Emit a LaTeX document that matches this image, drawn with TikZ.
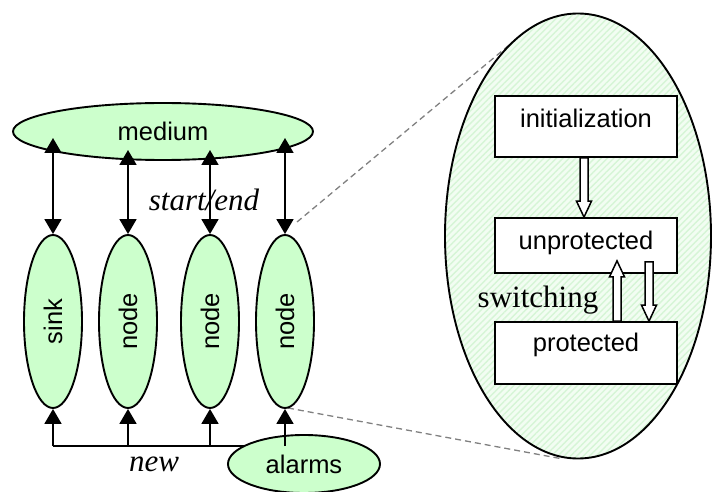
\documentclass[tikz,border=0pt]{standalone}
\usepackage{fontspec}
\setmainfont{Liberation Serif}
\setsansfont{Liberation Sans}
\usetikzlibrary{shapes.geometric,arrows.meta,calc,patterns.meta}
\definecolor{mint}{RGB}{204,255,204}
\definecolor{hatchbg}{RGB}{242,253,242}
\definecolor{hatchln}{RGB}{214,245,214}
\begin{document}
\begin{tikzpicture}[x=1pt,y=-1pt,
  lbl/.style={font=\sffamily\fontsize{25.5}{30}\selectfont},
  ell/.style={ellipse, draw, fill=mint, line width=1.9pt, inner sep=0pt, lbl},
  vell/.style={ell, minimum width=173pt, minimum height=58pt, rotate=90},
  box/.style={rectangle, draw, fill=white, line width=1.7pt, minimum width=182pt, inner sep=0pt, lbl},
  conn/.style={line width=1.9pt},
  tipx/.tip={Triangle[length=15pt,width=17pt]},
  ital/.style={font=\itshape\fontsize{31}{36}\selectfont},
  dashline/.style={dash pattern=on 6pt off 4pt, draw=gray, line width=1.3pt},
  hollow/.style={draw, fill=white, line width=1.5pt, to path={
    ($(\tikztotarget)!16pt!(\tikztostart)$) coordinate (hb)
    ($(\tikztostart)!4pt!90:(\tikztotarget)$) -- ($(hb)!4pt!90:(\tikztotarget)$)
    -- ($(hb)!7.5pt!90:(\tikztotarget)$) -- (\tikztotarget)
    -- ($(hb)!7.5pt!-90:(\tikztotarget)$) -- ($(hb)!4pt!-90:(\tikztotarget)$)
    -- ($(\tikztostart)!4pt!-90:(\tikztotarget)$) -- cycle}}
]
\useasboundingbox (0,0) rectangle (713,492);

% dashed zoom lines
\coordinate (d1) at (297,222);
\coordinate (d2) at (520,36);
\coordinate (d3) at (288,408);
\coordinate (d4) at (563,459);
\draw[dashline] (d1) -- (d2);
\draw[dashline] (d3) -- (d4);

% big zoomed ellipse
\node[ellipse, draw, line width=1.9pt, inner sep=0pt, minimum width=266pt, minimum height=445pt,
      preaction={fill=hatchbg},
      preaction={pattern={Lines[angle=45,distance=4.5pt,line width=1.4pt]}, pattern color=hatchln}] (big) at (578,236) {};

% boxes
\node[box, minimum height=61pt, label={[lbl, yshift=8pt]center:initialization}] (init) at (586,126.5) {};
\node[box, minimum height=55pt, label={[lbl, yshift=3pt]center:unprotected}] (unp) at (586,245.5) {};
\node[box, minimum height=62pt, label={[lbl, yshift=8pt]center:protected}] (prot) at (586,353) {};

\coordinate (ax1) at (584,0);
\coordinate (ax2) at (617,0);
\coordinate (ax3) at (649,0);
\coordinate (h1s) at (init.south -| ax1);
\coordinate (h1t) at (unp.north -| ax1);
\coordinate (h2s) at (prot.north -| ax2);
\coordinate (h2t) at ($(unp.south -| ax2)+(0,-13)$);
\coordinate (h3s) at ($(unp.south -| ax3)+(0,-12)$);
\coordinate (h3t) at (prot.north -| ax3);
\path[hollow] (h1s) to (h1t);
\path[hollow] (h2s) to (h2t);
\path[hollow] (h3s) to (h3t);

\node[font=\fontsize{31}{36}\selectfont] (sw) at (538,300) {switching};

% medium
\node[ell, minimum width=300pt, minimum height=57pt] (medium) at (163,131.5) {medium};

% nodes
\node[vell] (n1) at (53,321.5) {sink};
\node[vell] (n2) at (128,321.5) {node};
\node[vell] (n3) at (210,321.5) {node};
\node[vell] (n4) at (285,321.5) {node};

\coordinate (m1) at (53,138);
\coordinate (m2) at (128,150);
\coordinate (m3) at (210,150);
\coordinate (m4) at (285,138);
\draw[conn, tipx-tipx] (m1) -- (n1.east);
\draw[conn, tipx-tipx] (m2) -- (n2.east);
\draw[conn, tipx-tipx] (m3) -- (n3.east);
\draw[conn, tipx-tipx] (m4) -- (n4.east);

\node[ital] (se) at (204,200) {start/end};

% bus from alarms
\coordinate (bus) at (0,446);
\draw[conn] (n1.west |- bus) -- (n4.west |- bus);
\draw[conn, -tipx] (n1.west |- bus) -- (n1.west);
\draw[conn, -tipx] (n2.west |- bus) -- (n2.west);
\draw[conn, -tipx] (n3.west |- bus) -- (n3.west);
\node[ell, minimum width=152pt, minimum height=58pt] (alarms) at (304,464) {alarms};
\draw[conn, -tipx] (n4.west |- bus) -- (n4.west);

\node[ital] (new) at (154,464) {new};
\end{tikzpicture}
\end{document}
